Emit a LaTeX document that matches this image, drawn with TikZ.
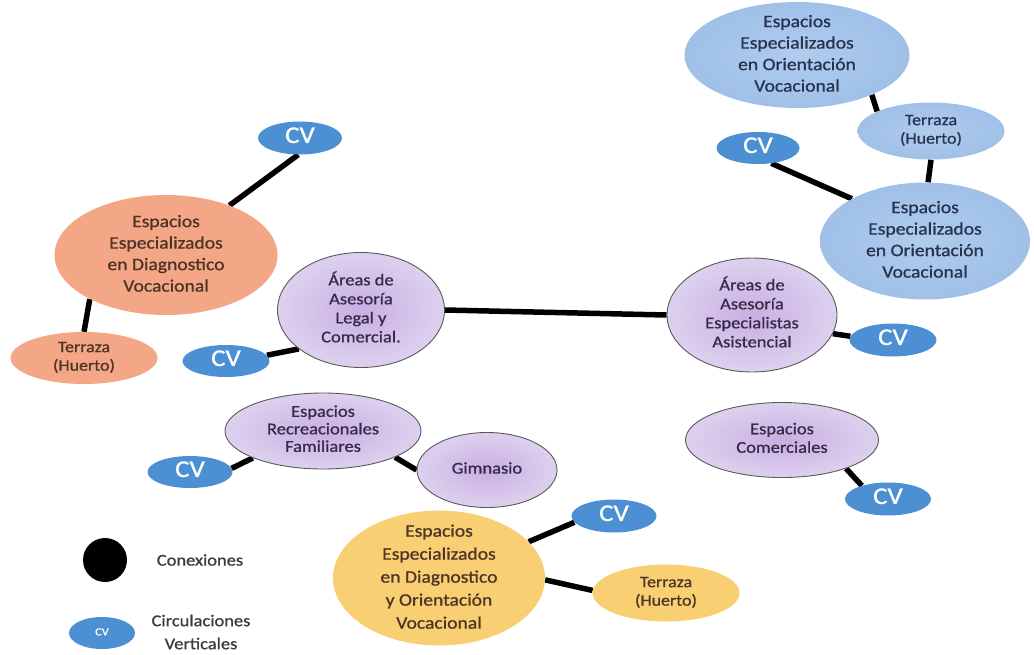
\documentclass[tikz,border=0pt]{standalone}
\usepackage{fontspec}
\setmainfont{Carlito}[FakeStretch=1.12,FakeBold=0.9]
\usetikzlibrary{shapes.geometric,backgrounds}
\definecolor{cvblue}{HTML}{4C8FD2}
\definecolor{lblue}{HTML}{A0C0E8}
\definecolor{lblueIn}{HTML}{B0CCEE}
\definecolor{orng}{HTML}{F4A786}
\definecolor{yell}{HTML}{F9CF73}
\definecolor{purIn}{HTML}{C9AEE2}
\definecolor{purOut}{HTML}{DDD1EE}
\definecolor{txtblue}{HTML}{26344F}
\definecolor{txtbrown}{HTML}{4E3426}
\definecolor{txtpur}{HTML}{352C48}
\definecolor{txtgray}{HTML}{3C3C3C}
\newcommand{\zt}[1]{\raisebox{-0.25em}[0pt][0pt]{\makebox[0pt]{$\vcenter{\hbox{\begin{tabular}{@{}c@{}}#1\end{tabular}}}$}}}
\tikzset{
  zone/.style={ellipse, inner sep=0pt},
  bigfont/.style={font=\fontsize{17.5}{21.5}\selectfont},
  midfont/.style={font=\fontsize{16.5}{19}\selectfont},
  bluez/.style={zone, inner color=lblueIn, outer color=lblue, text=txtblue},
  orangez/.style={zone, fill=orng, text=txtbrown},
  yellowz/.style={zone, fill=yell, text=txtbrown},
  purplez/.style={zone, draw=black!65, line width=0.9pt, inner color=purIn, outer color=purOut, text=txtpur, midfont},
  cvnode/.style={zone, fill=cvblue, text=white, font=\fontsize{24}{26}\selectfont, minimum width=85, minimum height=33},
  conn/.style={line width=5.5pt, black},
  legendtxt/.style={text=txtgray, font=\fontsize{16.5}{23}\selectfont, inner sep=0pt}
}
\begin{document}
\begin{tikzpicture}[x=1pt,y=-1pt]
\useasboundingbox (0,0) rectangle (1034,654);
% top right cluster
\node[bluez, bigfont, minimum width=225, minimum height=106] (ov1) at (797,55) {\zt{Espacios\\Especializados\\en Orientación\\Vocacional}};
\node[bluez, font=\fontsize{16}{18.5}\selectfont, minimum width=147, minimum height=57] (tb) at (931,131) {\zt{Terraza\\(Huerto)}};
\node[cvnode, minimum width=83, minimum height=32] (cv1) at (758,148) {\zt{CV}};
\node[bluez, bigfont, minimum width=210, minimum height=117] (ov2) at (925,241) {\zt{Espacios\\Especializados\\en Orientación\\Vocacional}};
% left orange cluster
\node[orangez, bigfont, minimum width=223, minimum height=120] (dv) at (166,255) {\zt{Espacios\\Especializados\\en Diagnostico\\Vocacional}};
\node[cvnode, minimum width=84] (cv2) at (300,138) {\zt{CV}};
\node[orangez, font=\fontsize{16}{18.5}\selectfont, minimum width=147, minimum height=52] (to) at (84,358) {\zt{Terraza\\(Huerto)}};
% middle purple
\node[purplez, minimum width=167, minimum height=115] (alc) at (361,310) {\zt{Áreas de\\Asesoría\\Legal y\\Comercial.}};
\node[cvnode, minimum width=87, minimum height=32] (cv3) at (226,361) {\zt{CV}};
\node[purplez, minimum width=170, minimum height=114] (aea) at (752,315) {\zt{Áreas de\\Asesoría\\Especialistas\\Asistencial}};
\node[cvnode, minimum width=87] (cv4) at (893,340) {\zt{CV}};
\node[purplez, font=\fontsize{16.5}{18.5}\selectfont, minimum width=193, minimum height=75] (ec) at (782,440) {\zt{Espacios\\Comerciales}};
\node[cvnode, minimum width=86] (cv5) at (888,499) {\zt{CV}};
\node[purplez, font=\fontsize{16.5}{17.5}\selectfont, minimum width=196, minimum height=76] (erf) at (323,431) {\zt{Espacios\\Recreacionales\\Familiares}};
\node[purplez, minimum width=140, minimum height=75] (gym) at (487,470) {\zt{Gimnasio}};
\node[cvnode, minimum width=85, minimum height=32] (cv6) at (190,472) {\zt{CV}};
% bottom yellow
\node[yellowz, font=\fontsize{17.5}{23}\selectfont, minimum width=212, minimum height=135] (dov) at (439,578) {\zt{Espacios\\Especializados\\en Diagnostico\\y Orientación\\Vocacional}};
\node[cvnode, minimum width=85] (cv7) at (614,516) {\zt{CV}};
\node[yellowz, font=\fontsize{16}{18.5}\selectfont, minimum width=147, minimum height=57] (ty) at (666,593) {\zt{Terraza\\(Huerto)}};
% legend
\node[circle, fill=black, minimum width=44, minimum height=44, inner sep=0pt] (lc) at (105,560) {};
\node[legendtxt] (lct) at (200,560) {Conexiones};
\node[zone, fill=cvblue, text=white, font=\fontsize{11}{12}\selectfont, minimum width=66, minimum height=32] (lcv) at (102,633) {\zt{CV}};
\node[legendtxt, align=center] (lcvt) at (201,632) {Circulaciones\\Verticales};
% connectors
\begin{scope}[on background layer]
\draw[conn] (ov1.-28) -- (tb.160);
\draw[conn] (tb.-90) -- (ov2.87);
\draw[conn] (cv1.-49) -- (ov2.150);
\draw[conn] (cv2.-96) -- (dv.38);
\draw[conn] (dv.-150) -- (to.90);
\draw[conn] (alc.east) -- (aea.west);
\draw[conn] (cv3.8) -- (alc.-148);
\draw[conn] (aea.-13) -- (cv4.175);
\draw[conn] (ec.-24) -- (cv5.153);
\draw[conn] (erf.-20) -- (gym.west);
\draw[conn] (cv6.5) -- (erf.-159);
\draw[conn] (dov.22) -- (cv7.-171);
\draw[conn] (dov.-1) -- (ty.178);
\end{scope}
\end{tikzpicture}
\end{document}
